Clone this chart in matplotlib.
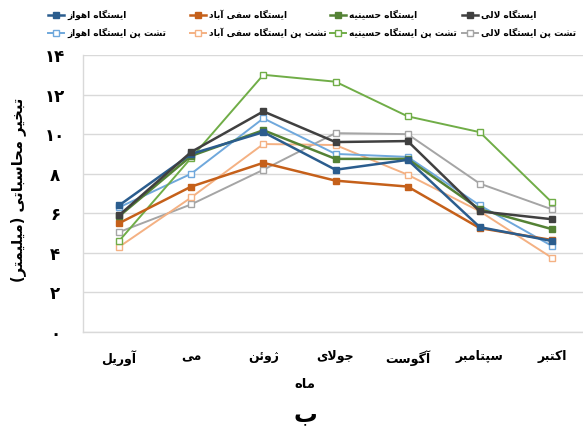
import matplotlib
matplotlib.use("Agg")
import matplotlib.pyplot as plt
from matplotlib.lines import Line2D

# ---------------------------------------------------------------- data
months = ['آوریل', 'می', 'ژوئن', 'جولای', 'آگوست', 'سپتامبر', 'اکتبر']

ahvaz = [6.4, 9.0, 10.1, 8.2, 8.7, 5.3, 4.6]
safiabad = [5.5, 7.35, 8.55, 7.65, 7.35, 5.25, 4.65]
hosseinieh = [5.85, 8.9, 10.2, 8.75, 8.75, 6.2, 5.2]
lali = [5.9, 9.1, 11.15, 9.6, 9.65, 6.1, 5.7]
pan_ahvaz = [6.3, 8.0, 10.8, 9.0, 8.85, 6.4, 4.35]
pan_safiabad = [4.3, 6.8, 9.5, 9.45, 7.95, 6.1, 3.75]
pan_hosseinieh = [4.6, 8.8, 13.0, 12.65, 10.9, 10.1, 6.55]
pan_lali = [5.05, 6.45, 8.2, 10.05, 10.0, 7.5, 6.2]

series_names = ['ایستگاه اهواز', 'ایستگاه سفی آباد', 'ایستگاه حسینیه', 'ایستگاه لالی',
                'تشت پن ایستگاه اهواز', 'تشت پن ایستگاه سفی آباد',
                'تشت پن ایستگاه حسینیه', 'تشت پن ایستگاه لالی']

y_ticks = [0, 2, 4, 6, 8, 10, 12, 14]
x_title = 'ماه'
y_title = 'تبخیر محاسباتی (میلیمتر)'
panel_label = 'ب'

# ---------------------------------------------------------------- Persian shaping
FORMS = {
    'ا': ('\uFE8D', '\uFE8E', None, None),
    'آ': ('\uFE81', '\uFE82', None, None),
    'ب': ('\uFE8F', '\uFE90', '\uFE91', '\uFE92'),
    'پ': ('\uFB56', '\uFB57', '\uFB58', '\uFB59'),
    'ت': ('\uFE95', '\uFE96', '\uFE97', '\uFE98'),
    'ج': ('\uFE9D', '\uFE9E', '\uFE9F', '\uFEA0'),
    'ح': ('\uFEA1', '\uFEA2', '\uFEA3', '\uFEA4'),
    'خ': ('\uFEA5', '\uFEA6', '\uFEA7', '\uFEA8'),
    'د': ('\uFEA9', '\uFEAA', None, None),
    'ر': ('\uFEAD', '\uFEAE', None, None),
    'ز': ('\uFEAF', '\uFEB0', None, None),
    'ژ': ('\uFB8A', '\uFB8B', None, None),
    'س': ('\uFEB1', '\uFEB2', '\uFEB3', '\uFEB4'),
    'ش': ('\uFEB5', '\uFEB6', '\uFEB7', '\uFEB8'),
    'ف': ('\uFED1', '\uFED2', '\uFED3', '\uFED4'),
    'ک': ('\uFB8E', '\uFB8F', '\uFB90', '\uFB91'),
    'گ': ('\uFB92', '\uFB93', '\uFB94', '\uFB95'),
    'ل': ('\uFEDD', '\uFEDE', '\uFEDF', '\uFEE0'),
    'م': ('\uFEE1', '\uFEE2', '\uFEE3', '\uFEE4'),
    'ن': ('\uFEE5', '\uFEE6', '\uFEE7', '\uFEE8'),
    'ه': ('\uFEE9', '\uFEEA', '\uFEEB', '\uFEEC'),
    'و': ('\uFEED', '\uFEEE', None, None),
    'ی': ('\uFBFC', '\uFBFD', '\uFBFE', '\uFBFF'),
    'ئ': ('\uFE89', '\uFE8A', '\uFE8B', '\uFE8C'),
}
LAM_ALEF = {'لا': ('\uFEFB', '\uFEFC'), 'لآ': ('\uFEF5', '\uFEF6')}


def fa(text):
    """Return Persian text as joined presentation forms in visual order."""
    tokens, i = [], 0
    while i < len(text):
        if text[i] == 'ل' and i + 1 < len(text) and text[i + 1] in 'اآ':
            tokens.append(text[i:i + 2])
            i += 2
        else:
            tokens.append(text[i])
            i += 1

    def links_forward(t):
        return t in FORMS and FORMS[t][2] is not None

    def is_letter(t):
        return t in FORMS or t in LAM_ALEF

    out = []
    for k, t in enumerate(tokens):
        prev = tokens[k - 1] if k > 0 else None
        nxt = tokens[k + 1] if k + 1 < len(tokens) else None
        p = prev is not None and links_forward(prev)
        n = links_forward(t) and nxt is not None and is_letter(nxt)
        if t in LAM_ALEF:
            out.append(LAM_ALEF[t][1 if p else 0])
        elif t in FORMS:
            f = FORMS[t]
            out.append(f[3] if (p and n) else f[1] if p else f[2] if n else f[0])
        else:
            out.append(t)
    vis = ''.join(reversed(out))
    return vis.translate(str.maketrans('()', ')('))


def fa_digits(v):
    return str(v).translate(str.maketrans('0123456789', '۰۱۲۳۴۵۶۷۸۹'))


# ---------------------------------------------------------------- figure
plt.rcParams['font.family'] = ['DejaVu Sans']
W, H = 583, 444
fig = plt.figure(figsize=(W / 100, H / 100), dpi=100)

# plot area in pixels: left 83, right 588 (runs past the edge), top 55, bottom 332
L, R, T, B = 83, 588, 55, 332
ax = fig.add_axes([L / W, (H - B) / H, (R - L) / W, (B - T) / H])

colors = ['#2B5D8E', '#C5601A', '#548235', '#404040',
          '#6FA8DC', '#F4B183', '#70AD47', '#A5A5A5']
all_series = [ahvaz, safiabad, hosseinieh, lali,
              pan_ahvaz, pan_safiabad, pan_hosseinieh, pan_lali]
filled = [True] * 4 + [False] * 4

x = list(range(len(months)))
draw_order = [7, 5, 4, 6, 1, 2, 0, 3]
for idx in draw_order:
    c = colors[idx]
    if filled[idx]:
        ax.plot(x, all_series[idx], color=c, lw=1.8, marker='s', ms=5,
                mfc=c, mec=c, zorder=3)
    else:
        ax.plot(x, all_series[idx], color=c, lw=1.4, marker='s', ms=5,
                mfc='white', mec=c, mew=1.0, zorder=2)

ax.set_xlim(-0.5, len(months) - 0.5)
ax.set_ylim(0, 14)
ax.set_yticks(y_ticks)
ax.set_yticklabels([fa_digits(v) for v in y_ticks], fontsize=12, fontweight='bold')
for t in ax.get_yticklabels():
    t.set_ha('center')
ax.tick_params(axis='y', length=0, pad=20)
ax.set_xticks(x)
ax.set_xticklabels([fa(m) for m in months], fontsize=9, fontweight='bold')
ax.tick_params(axis='x', length=0, pad=13)

ax.grid(axis='y', color='#D9D9D9', lw=1.0)
ax.set_axisbelow(True)
for side in ['top', 'right']:
    ax.spines[side].set_visible(False)
for side in ['left', 'bottom']:
    ax.spines[side].set_color('#D9D9D9')
    ax.spines[side].set_linewidth(1.0)


def px(xp, yp):
    return xp / W, 1 - yp / H


fig.text(*px(305, 384), fa(x_title), ha='center', va='center',
         fontsize=9.5, fontweight='bold')
fig.text(*px(305, 414), fa(panel_label), ha='center', va='center',
         fontsize=17, fontweight='bold')
fig.text(*px(18, 190), fa(y_title), ha='center', va='center', rotation=90,
         fontsize=10.5, fontweight='bold')

# legend: two rows of four columns, key to the left of each label
leg_rows = [[0, 1, 2, 3], [4, 5, 6, 7]]
row_y = [15, 33]
key_x = [56, 198, 338, 470]
for r, row in enumerate(leg_rows):
    for k, idx in enumerate(row):
        hx = key_x[k]
        y = 1 - row_y[r] / H
        c = colors[idx]
        line = Line2D([(hx - 8) / W, (hx + 8) / W], [y, y], transform=fig.transFigure,
                      color=c, lw=1.8 if filled[idx] else 1.4)
        mk = Line2D([hx / W], [y], transform=fig.transFigure, marker='s', ms=4.5,
                    mfc=c if filled[idx] else 'white', mec=c, mew=1.0, ls='none')
        fig.add_artist(line)
        fig.add_artist(mk)
        fig.text((hx + 11) / W, y, fa(series_names[idx]), ha='left', va='center',
                 fontsize=6.5, fontweight='bold')

fig.savefig('out.png', dpi=100)
